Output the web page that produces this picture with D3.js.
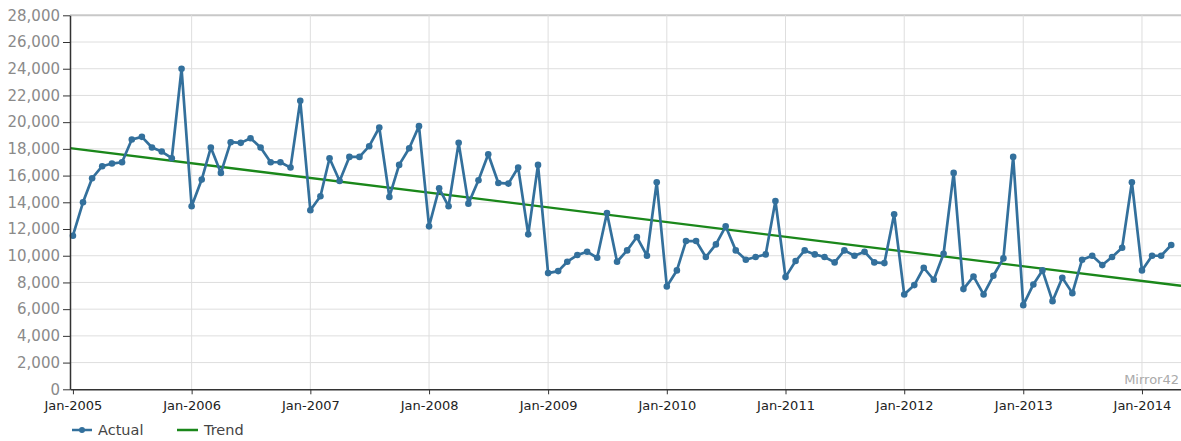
<!DOCTYPE html>
<html><head><meta charset="utf-8">
<script src="https://cdn.jsdelivr.net/npm/d3@7"></script>
<style>body{margin:0;background:#fff} svg{display:block}</style>
</head><body>
<svg id="chart" width="1181" height="441"></svg>
<script>
// ---- data ----
const startDate = new Date(2005, 0, 1);
const actual2005 = [11500, 14000, 15800, 16700, 16900, 17000, 18700, 18900, 18100, 17800, 17300, 24000];
const actual2006 = [13700, 15700, 18100, 16200, 18500, 18450, 18800, 18100, 17000, 17000, 16600, 21600];
const actual2007 = [13400, 14450, 17300, 15600, 17400, 17400, 18200, 19600, 14400, 16800, 18050, 19700];
const actual2008 = [12200, 15050, 13700, 18450, 13900, 15650, 17600, 15450, 15400, 16600, 11600, 16800];
const actual2009 = [8700, 8850, 9550, 10050, 10300, 9850, 13200, 9550, 10400, 11400, 10000, 15500];
const actual2010 = [7700, 8900, 11100, 11100, 9900, 10850, 12200, 10400, 9700, 9900, 10100, 14100];
const actual2011 = [8400, 9600, 10400, 10100, 9900, 9500, 10400, 10000, 10300, 9500, 9450, 13100];
const actual2012 = [7100, 7800, 9100, 8200, 10150, 16200, 7500, 8450, 7100, 8500, 9800, 17400];
const actual2013 = [6300, 7850, 8900, 6600, 8350, 7200, 9700, 10000, 9300, 9900, 10600, 15500];
const actual2014 = [8900, 10000, 10000, 10800];
const trendDates = [new Date(2004, 11, 23), new Date(2014, 4, 1)];
const trendValues = [18050, 7750];
const yTicks = [0, 2000, 4000, 6000, 8000, 10000, 12000, 14000, 16000, 18000, 20000, 22000, 24000, 26000, 28000];
const xTickYears = [2005, 2006, 2007, 2008, 2009, 2010, 2011, 2012, 2013, 2014];
const legendLabels = ["Actual", "Trend"];
const watermark = "Mirror42";

// ---- build ----
const actualValues = [].concat(actual2005, actual2006, actual2007, actual2008, actual2009,
  actual2010, actual2011, actual2012, actual2013, actual2014);
const actual = actualValues.map((v, i) => ({date: d3.timeMonth.offset(startDate, i), value: v}));
const trend = trendDates.map((d, i) => ({date: d, value: trendValues[i]}));
const xTicks = xTickYears.map(yr => new Date(yr, 0, 1));

const svg = d3.select("#chart");
const pLeft = 70, pRight = 1181, pTop = 15.3, pBottom = 389.3;
const font = "'DejaVu Sans', Verdana, sans-serif";

const x = d3.scaleTime().domain(trendDates).range([pLeft, pRight]);
const y = d3.scaleLinear().domain([0, 28000]).range([pBottom, pTop]);

// grid
const grid = svg.append("g");
grid.selectAll("line.h").data(yTicks.slice(1)).join("line")
  .attr("x1", pLeft).attr("x2", pRight)
  .attr("y1", d => y(d)).attr("y2", d => y(d))
  .attr("stroke", d => d === 28000 ? "#c8c8c8" : "#dedede")
  .attr("stroke-width", d => d === 28000 ? 2 : 1);
grid.selectAll("line.v").data(xTicks.slice(1)).join("line")
  .attr("x1", d => x(d)).attr("x2", d => x(d))
  .attr("y1", pTop).attr("y2", pBottom)
  .attr("stroke", "#dedede").attr("stroke-width", 1);

// watermark
svg.append("text").attr("x", 1179).attr("y", 384).attr("text-anchor", "end")
  .attr("font-family", font).attr("font-size", 13).attr("fill", "#aaaaaa").text(watermark);

// trend
svg.append("path").datum(trend)
  .attr("d", d3.line().x(d => x(d.date)).y(d => y(d.value)))
  .attr("fill", "none").attr("stroke", "#1a871a").attr("stroke-width", 2.3);

// actual
svg.append("path").datum(actual)
  .attr("d", d3.line().x(d => x(d.date)).y(d => y(d.value)))
  .attr("fill", "none").attr("stroke", "#33709c").attr("stroke-width", 2.7)
  .attr("stroke-linejoin", "round");
svg.append("g").selectAll("circle").data(actual).join("circle")
  .attr("cx", d => x(d.date)).attr("cy", d => y(d.value)).attr("r", 3.3)
  .attr("fill", "#33709c");

// axes
const yAxis = svg.append("g").attr("transform", `translate(${pLeft},0)`)
  .call(d3.axisLeft(y).tickValues(yTicks).tickFormat(d3.format(",")).tickSize(7).tickSizeOuter(0).tickPadding(3));
yAxis.select(".domain").attr("stroke", "#333").attr("stroke-width", 1.5);
yAxis.selectAll(".tick line").attr("stroke", "#333");
yAxis.selectAll("text").attr("font-family", font).attr("font-size", 15).attr("fill", "#8a8a8a");

const xAxis = svg.append("g").attr("transform", `translate(0,${pBottom})`)
  .call(d3.axisBottom(x).tickValues(xTicks).tickFormat(d3.timeFormat("%b-%Y")).tickSize(5).tickSizeOuter(0).tickPadding(6));
xAxis.select(".domain").attr("stroke", "#333").attr("stroke-width", 1.5);
xAxis.selectAll(".tick line").attr("stroke", "#333");
xAxis.selectAll("text").attr("font-family", font).attr("font-size", 13).attr("fill", "#222");

// legend
const lg = svg.append("g").attr("font-family", font).attr("font-size", 14.5).attr("fill", "#444");
lg.append("line").attr("x1", 72).attr("x2", 92).attr("y1", 430).attr("y2", 430)
  .attr("stroke", "#33709c").attr("stroke-width", 2.5);
lg.append("circle").attr("cx", 82).attr("cy", 430).attr("r", 3).attr("fill", "#33709c");
lg.append("text").attr("x", 98).attr("y", 430).attr("dy", "0.35em").text(legendLabels[0]);
lg.append("line").attr("x1", 177).attr("x2", 198).attr("y1", 430).attr("y2", 430)
  .attr("stroke", "#1a871a").attr("stroke-width", 2.5);
lg.append("text").attr("x", 204).attr("y", 430).attr("dy", "0.35em").text(legendLabels[1]);
</script>
</body></html>
